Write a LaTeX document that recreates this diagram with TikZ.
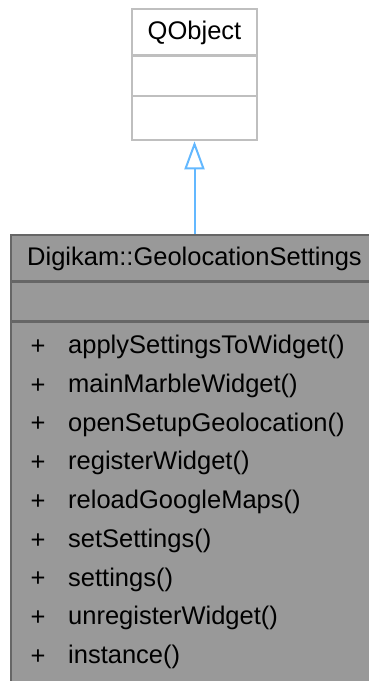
\documentclass[tikz,border=0pt]{standalone}
\usepackage{fontspec}
\setmainfont{Liberation Sans}
\usepackage{xcolor}
\usetikzlibrary{arrows.meta}
\definecolor{qline}{HTML}{BFBFBF}
\definecolor{gline}{HTML}{666666}
\definecolor{gfill}{HTML}{999999}
\definecolor{inherit}{HTML}{63B8FF}

\begin{document}
\begin{tikzpicture}[x=1pt, y=-1pt,
		cls/.style={rectangle, inner sep=0pt, line width=2.5pt},
		txt/.style={inner sep=0pt, font=\fontsize{25.5}{30}\selectfont},
		member/.style={txt, anchor=west}]
		
		\useasboundingbox (0,0) rectangle (368,681);
		
		% QObject
		\node[cls, draw=qline, fill=white, minimum width=125pt, minimum height=131pt] (qobject) at (194.5,74.5) {};
		\draw[qline, line width=2.5pt] (132,55.7) -- (257,55.7);
		\draw[qline, line width=2.5pt] (132,96) -- (257,96);
		\node[txt] (qname) at (194.5,33) {QObject};
		
		% Digikam::GeolocationSettings
		\node[cls, draw=gline, fill=gfill, minimum width=367pt, minimum height=465pt] (geoset) at (194.5,467.5) {};
		\draw[gline, line width=2.5pt] (11,281.7) -- (378,281.7);
		\draw[gline, line width=2.5pt] (11,321.7) -- (378,321.7);
		\node[txt] (gname) at (194.5,258.5) {Digikam::GeolocationSettings};
		
		% + ??
		\node[txt] (p1) at (38,347) {+};
		\node[txt] (p2) at (38,385.75) {+};
		\node[txt] (p3) at (38,424.5) {+};
		\node[txt] (p4) at (38,463.25) {+};
		\node[txt] (p5) at (38,502) {+};
		\node[txt] (p6) at (38,540.75) {+};
		\node[txt] (p7) at (38,579.5) {+};
		\node[txt] (p8) at (38,618.25) {+};
		\node[txt] (p9) at (38,657) {+};
		
		% methods
		\node[member] (m1) at (68,347) {applySettingsToWidget()};
		\node[member] (m2) at (68,385.75) {mainMarbleWidget()};
		\node[member] (m3) at (68,424.5) {openSetupGeolocation()};
		\node[member] (m4) at (68,463.25) {registerWidget()};
		\node[member] (m5) at (68,502) {reloadGoogleMaps()};
		\node[member] (m6) at (68,540.75) {setSettings()};
		\node[member] (m7) at (68,579.5) {settings()};
		\node[member] (m8) at (68,618.25) {unregisterWidget()};
		\node[member] (m9) at (68,657) {instance()};
		
		% inheritance
		\draw[inherit, line width=2pt, -{Triangle[open, length=28pt, width=20pt]}] (geoset.north) -- (qobject.south);
		
	\end{tikzpicture}
\end{document}
